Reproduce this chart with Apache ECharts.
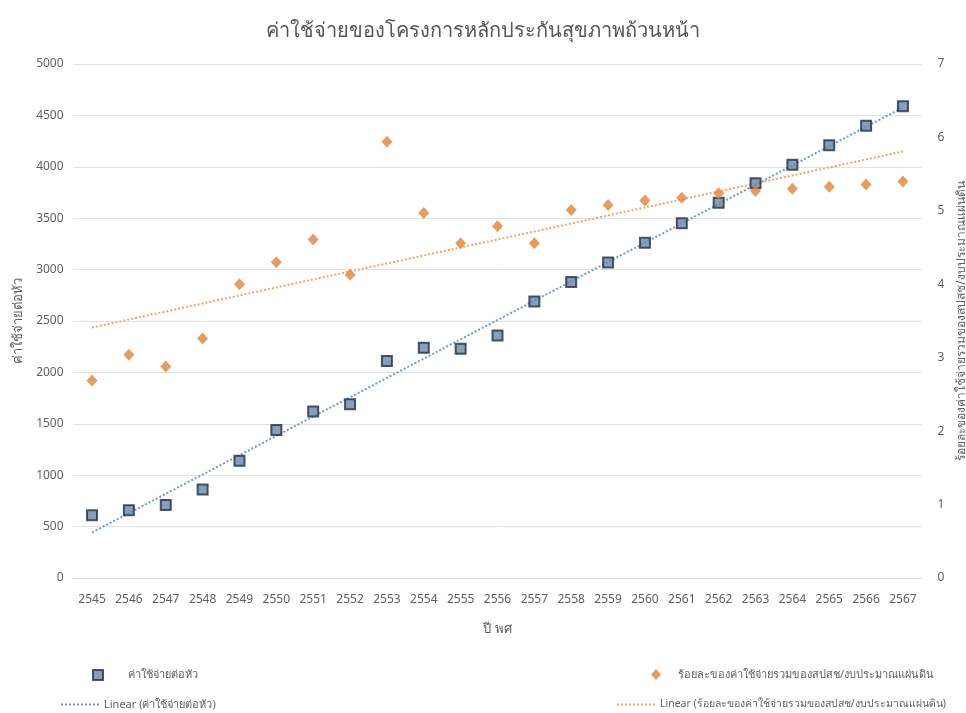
<!DOCTYPE html>
<html>
<head>
<meta charset="utf-8">
<script src="https://cdn.jsdelivr.net/npm/echarts@6/dist/echarts.min.js"></script>
<style>
  html, body { margin: 0; padding: 0; background: #ffffff; }
  #chart { width: 966px; height: 713px; }
</style>
</head>
<body>
<div id="chart"></div>
<script>
// Fiscal years (Buddhist Era)
const years = ['2545', '2546', '2547', '2548', '2549', '2550', '2551', '2552',
  '2553', '2554', '2555', '2556', '2557', '2558', '2559', '2560', '2561',
  '2562', '2563', '2564', '2565', '2566', '2567'];

// Per-capita cost (baht), left axis
const costPerHead = [610, 660, 710, 860, 1140, 1440, 1620, 1690, 2110, 2240,
  2230, 2360, 2690, 2880, 3070, 3260, 3450, 3650, 3840, 4020, 4210, 4400, 4590];

// Total NHSO spending as % of national budget, right axis
const budgetShare = [2.69, 3.04, 2.88, 3.26, 4.00, 4.30, 4.61, 4.13, 5.94, 4.97,
  4.56, 4.79, 4.56, 5.01, 5.08, 5.14, 5.18, 5.24, 5.27, 5.30, 5.33, 5.36, 5.40];

// Axis ranges: [min, max, interval]
const leftScale = [0, 5000, 500];
const rightScale = [0, 7, 1];

const nameCost = 'ค่าใช้จ่ายต่อหัว';
const nameShare = 'ร้อยละของค่าใช้จ่ายรวมของสปสช/งบประมาณแผ่นดิน';
const nameCostFit = 'Linear (ค่าใช้จ่ายต่อหัว)';
const nameShareFit = 'Linear (ร้อยละของค่าใช้จ่ายรวมของสปสช/งบประมาณแผ่นดิน)';

// Least-squares linear trend evaluated at each category index
function linearTrend(values) {
  const n = values.length;
  let sx = 0, sy = 0, sxx = 0, sxy = 0;
  values.forEach((y, x) => { sx += x; sy += y; sxx += x * x; sxy += x * y; });
  const slope = (n * sxy - sx * sy) / (n * sxx - sx * sx);
  const icpt = (sy - slope * sx) / n;
  return values.map((_, x) => +(icpt + slope * x).toFixed(4));
}

const FONT = '"Noto Sans", "Open Sans", sans-serif';
const TEXT = '#5f5f5f';

// dotted swatch used for the trendline legend entries
let dots = '';
for (let i = 0; i < 10; i++) dots += 'M' + (i * 4) + ',0h2v2h-2z';
const dotIcon = 'path://' + dots;

const chart = echarts.init(document.getElementById('chart'), null, { renderer: 'canvas' });

chart.setOption({
  backgroundColor: '#ffffff',
  animation: false,
  textStyle: { fontFamily: FONT },
  title: {
    text: 'ค่าใช้จ่ายของโครงการหลักประกันสุขภาพถ้วนหน้า',
    left: 'center',
    top: 16,
    textStyle: { fontFamily: FONT, fontSize: 20, fontWeight: 'normal', color: '#555555' }
  },
  grid: {
    left: 73.6, right: 44.6, top: 64, bottom: 135,
    containLabel: false,
    outerBoundsMode: 'none'
  },
  legend: [
    {
      data: [nameCost], left: 87, top: 664, itemWidth: 10, itemHeight: 10,
      textStyle: { fontFamily: FONT, fontSize: 11, color: TEXT, padding: [0, 0, 0, 20] }
    },
    {
      data: [nameShare], left: 646, top: 664, itemWidth: 10, itemHeight: 11,
      textStyle: { fontFamily: FONT, fontSize: 11, color: TEXT, padding: [0, 0, 0, 12] }
    },
    {
      data: [{ name: nameCostFit, icon: dotIcon }], left: 56, top: 694, itemWidth: 38, itemHeight: 2,
      textStyle: { fontFamily: FONT, fontSize: 11, color: TEXT }
    },
    {
      data: [{ name: nameShareFit, icon: dotIcon }], left: 612, top: 694, itemWidth: 38, itemHeight: 2,
      textStyle: { fontFamily: FONT, fontSize: 10.5, color: TEXT }
    }
  ],
  xAxis: {
    type: 'category',
    data: years,
    boundaryGap: true,
    name: 'ปี พศ',
    nameLocation: 'middle',
    nameGap: 45,
    nameTextStyle: { fontFamily: FONT, fontSize: 13, color: TEXT },
    axisLine: { show: true, lineStyle: { color: '#d9d9d9', width: 1 } },
    axisTick: { show: false },
    axisLabel: { fontFamily: FONT, fontSize: 12, color: TEXT, margin: 16, interval: 0 }
  },
  yAxis: [
    {
      type: 'value',
      min: leftScale[0], max: leftScale[1], interval: leftScale[2],
      name: nameCost,
      nameLocation: 'middle',
      nameRotate: 90,
      nameGap: 48,
      nameTextStyle: { fontFamily: FONT, fontSize: 13, color: TEXT },
      axisLine: { show: false },
      axisTick: { show: false },
      axisLabel: { fontFamily: FONT, fontSize: 12, color: TEXT, margin: 10, formatter: v => String(v) },
      splitLine: { show: true, lineStyle: { color: '#e3e3e3', width: 1 } }
    },
    {
      type: 'value',
      position: 'right',
      min: rightScale[0], max: rightScale[1], interval: rightScale[2],
      name: nameShare,
      nameLocation: 'middle',
      nameRotate: 90,
      nameGap: 30,
      nameTextStyle: { fontFamily: FONT, fontSize: 12, color: TEXT },
      axisLine: { show: false },
      axisTick: { show: false },
      axisLabel: { fontFamily: FONT, fontSize: 12, color: TEXT, margin: 16 },
      splitLine: { show: false }
    }
  ],
  series: [
    {
      name: nameCostFit,
      type: 'line',
      yAxisIndex: 0,
      data: linearTrend(costPerHead),
      symbol: 'none',
      color: '#6f9cc6',
      lineStyle: { color: '#6f9cc6', width: 2, type: [2, 2] },
      z: 2
    },
    {
      name: nameShareFit,
      type: 'line',
      yAxisIndex: 1,
      data: linearTrend(budgetShare),
      symbol: 'none',
      color: '#eea46a',
      lineStyle: { color: '#eea46a', width: 2, type: [2, 2] },
      z: 2
    },
    {
      name: nameCost,
      type: 'scatter',
      yAxisIndex: 0,
      data: costPerHead,
      symbol: 'rect',
      symbolSize: 10,
      itemStyle: { color: '#6a86a8', borderColor: '#1f2f46', borderWidth: 2 },
      z: 3
    },
    {
      name: nameShare,
      type: 'scatter',
      yAxisIndex: 1,
      data: budgetShare,
      symbol: 'diamond',
      symbolSize: [11, 12],
      itemStyle: { color: '#e0843c' },
      z: 3
    }
  ]
});
</script>
</body>
</html>
